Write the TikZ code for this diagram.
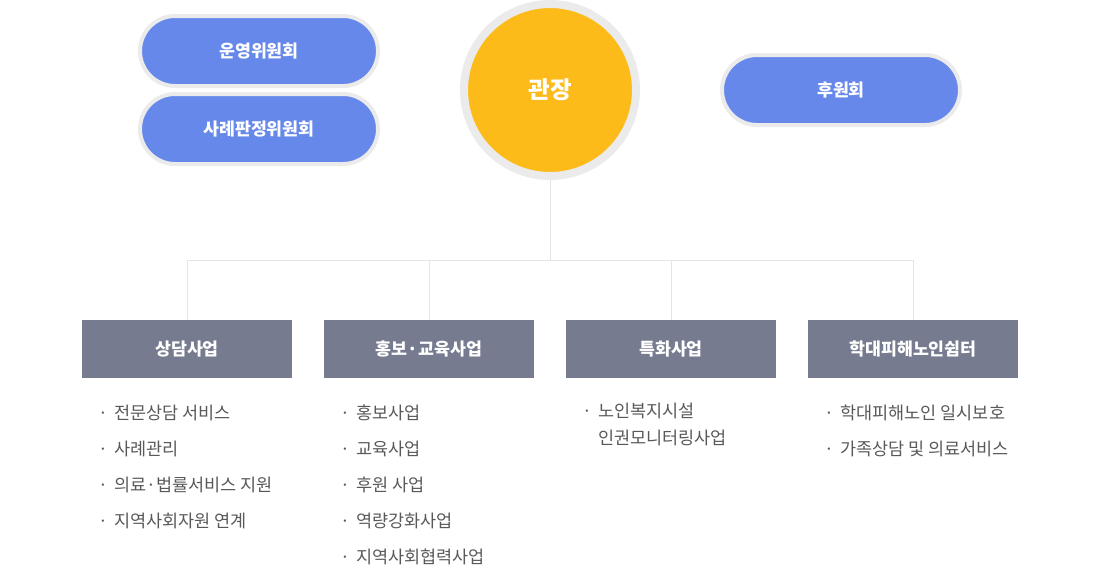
\documentclass[tikz,border=0pt]{standalone}
\usepackage{fontspec}
\setmainfont{Noto Sans CJK KR}
\usepackage{tikz}
\usetikzlibrary{positioning}
\definecolor{pillblue}{rgb}{0.4,0.5333,0.9176}
\definecolor{ringgray}{rgb}{0.9216,0.9216,0.9216}
\definecolor{bossyellow}{rgb}{0.9922,0.7333,0.1020}
\definecolor{boxgray}{rgb}{0.4627,0.4824,0.5608}
\definecolor{linegray}{rgb}{0.9,0.9,0.9}
\definecolor{itemgray}{rgb}{0.35,0.35,0.35}
\newcommand{\bul}{\makebox[0pt]{·}\hspace{11pt}}
\begin{document}
\begin{tikzpicture}[line cap=round,line join=round,x=1pt,y=-1pt,
  pill/.style={draw=ringgray,line width=4pt,fill=pillblue,rounded corners=35pt,minimum width=238pt,minimum height=70pt,inner sep=0pt,text=white,font=\fontsize{17.3}{17}\selectfont\bfseries},
  boss/.style={circle,draw=ringgray,line width=8pt,fill=bossyellow,minimum size=172pt,inner sep=0pt,text=white,font=\fontsize{23.5}{23}\selectfont\bfseries},
  dept/.style={fill=boxgray,minimum width=210pt,minimum height=58pt,inner sep=0pt,text=white,font=\fontsize{17.3}{17}\selectfont\bfseries},
  itm/.style={anchor=base west,inner sep=0pt,text=itemgray,font=\fontsize{17.5}{17}\selectfont},
  conn/.style={draw=linegray,line width=1pt,line cap=butt}]
\useasboundingbox (0,0) rectangle (1100,584);
\node[pill] (unyeong) at (259,51) {운영위원회};
\node[pill] (sarye) at (259,129) {사례판정위원회};
\node[boss] (gwanjang) at (550,90) {관장};
\node[pill] (huwon) at (841,90) {후원회};
\node[dept] (sangdam) at (187,349) {상담사업};
\node[dept] (hongbo) at (429,349) {홍보·교육사업};
\node[dept] (teukhwa) at (671,349) {특화사업};
\node[dept] (shelter) at (913,349) {학대피해노인쉼터};
\coordinate (hub) at (550,260);
\draw[conn] (gwanjang.south) -- (hub);
\draw[conn] (sangdam.north) -- (sangdam.north |- hub) -- (shelter.north |- hub) -- (shelter.north);
\draw[conn] (hongbo.north) -- (hongbo.north |- hub);
\draw[conn] (teukhwa.north) -- (teukhwa.north |- hub);
\foreach \t [count=\i] in {전문상담 서비스,사례관리,의료·법률서비스 지원,지역사회자원 연계}
  \node[itm] (sangdam\i) at (103,419+36*\i-36) {\bul\t};
\foreach \t [count=\i] in {홍보사업,교육사업,후원 사업,역량강화사업,지역사회협력사업}
  \node[itm] (hongbo\i) at (345,419+36*\i-36) {\bul\t};
\node[itm] (teukhwa1) at (587,417) {\bul 노인복지시설};
\node[itm] (teukhwa1b) at (598,444) {인권모니터링사업};
\foreach \t [count=\i] in {학대피해노인 일시보호,가족상담 및 의료서비스}
  \node[itm] (shelter\i) at (829,419+36*\i-36) {\bul\t};
\end{tikzpicture}
\end{document}
